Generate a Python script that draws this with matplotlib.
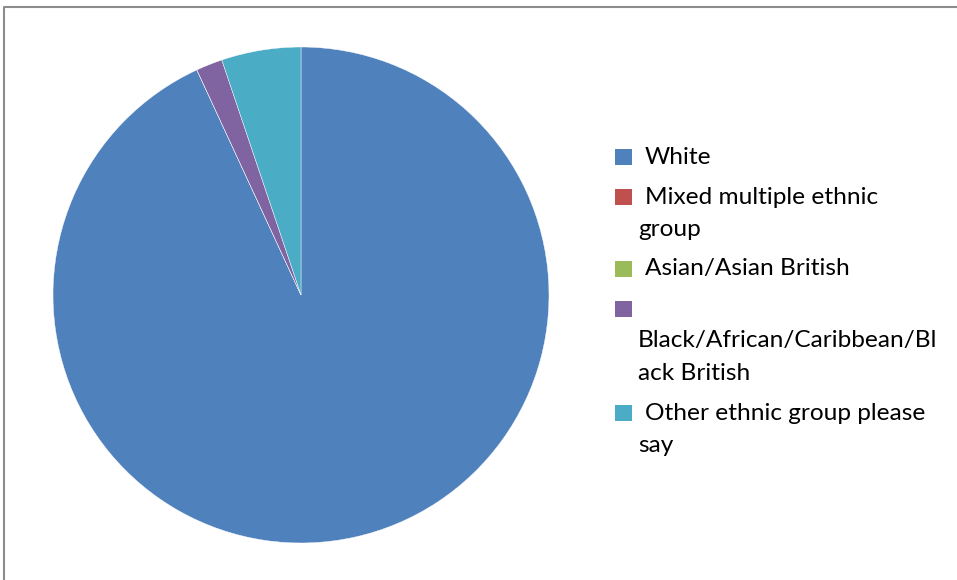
import matplotlib.pyplot as plt
from matplotlib.patches import Rectangle
from matplotlib.lines import Line2D

# ethnic group counts
groups = ["White", "Mixed multiple ethnic group", "Asian/Asian British",
          "Black/African/Caribbean/Black British", "Other ethnic group please say"]
counts = [54, 0, 0, 1, 3]
colors = ["#4F81BD", "#C0504D", "#9BBB59", "#8064A2", "#4BACC6"]
# legend text as wrapped in the original
legend_lines = [["White"],
                ["Mixed multiple ethnic", "group"],
                ["Asian/Asian British"],
                ["", "Black/African/Caribbean/Bl", "ack British"],
                ["Other ethnic group please", "say"]]

W, H = 957, 580
fig = plt.figure(figsize=(W / 100, H / 100), dpi=100)

def fx(px):
    return px / W

def fy(py):
    return 1 - py / H

# chart border (only top and left visible)
fig.add_artist(Line2D([fx(4), fx(4), fx(957)], [fy(580), fy(7), fy(7)],
                      color="#8c8c8c", lw=1.5, transform=fig.transFigure))

cx, cy, r = 301, 295, 248
ax = fig.add_axes([fx(cx - r), fy(cy + r), 2 * r / W, 2 * r / H])
ax.pie(counts, colors=colors, startangle=90, counterclock=False,
       wedgeprops=dict(edgecolor="white", linewidth=0.3))
ax.set_xlim(-1, 1)
ax.set_ylim(-1, 1)
ax.set_aspect("equal")
ax.axis("off")

# legend drawn by hand so wrapped lines line up like the original
font = dict(family=["Lato", "DejaVu Sans"], size=17.6, color="black")
y = 157
for lines, col in zip(legend_lines, colors):
    fig.add_artist(Rectangle((fx(615), fy(y + 8)), fx(632) - fx(615), fy(y - 8) - fy(y + 8),
                             facecolor=col, edgecolor="none", transform=fig.transFigure))
    for i, line in enumerate(lines):
        xpos = 645 if i == 0 else 638
        fig.text(fx(xpos), fy(y), line, va="center", ha="left", **font)
        if i < len(lines) - 1:
            y += 32
    y += 40

fig.savefig("out.png", dpi=100)
